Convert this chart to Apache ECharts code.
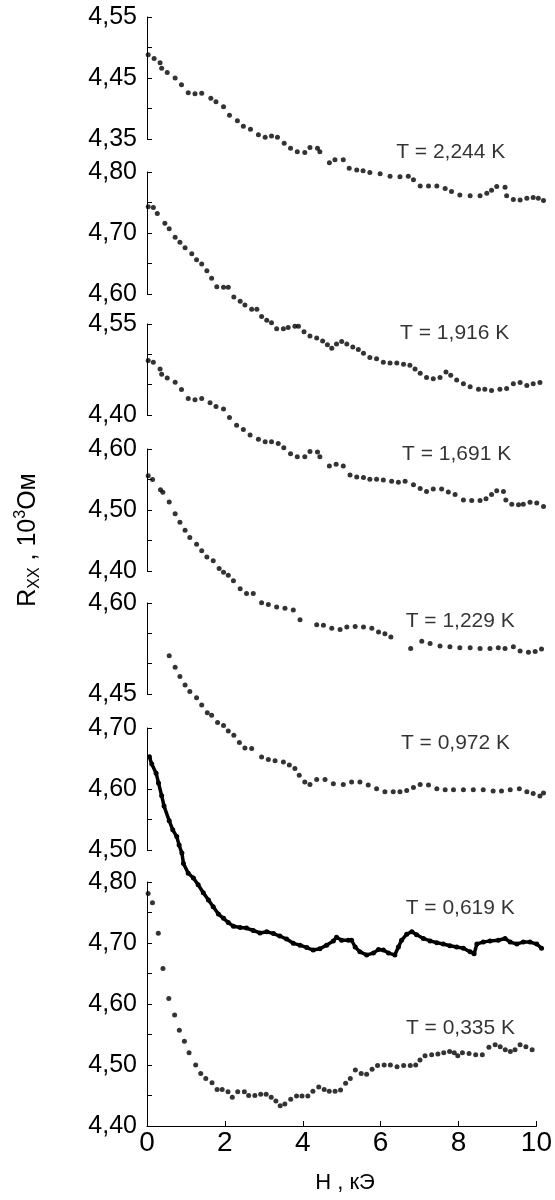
<!DOCTYPE html>
<html><head><meta charset="utf-8">
<script src="https://cdn.jsdelivr.net/npm/echarts@6/dist/echarts.min.js"></script>
<style>html,body{margin:0;padding:0;background:#fff}#c{width:555px;height:1200px}</style>
</head><body><div id="c"></div>
<script>
// Temperatures of the seven curves (top to bottom)
const temps = ['2,244', '1,916', '1,691', '1,229', '0,972', '0,619', '0,335'];

// R_xx (10^3 Ohm) vs H (kOe)
const r2244 = [[0.03,4.488],[0.18,4.482],[0.33,4.475],[0.37,4.466],[0.51,4.459],[0.71,4.450],[0.87,4.439],[1.04,4.426],[1.21,4.424],[1.38,4.425],[1.61,4.417],[1.74,4.411],[1.93,4.403],[2.08,4.389],[2.28,4.380],[2.43,4.371],[2.61,4.366],[2.81,4.357],[2.98,4.353],[3.14,4.355],[3.29,4.353],[3.46,4.343],[3.62,4.335],[3.79,4.329],[3.98,4.328],[4.11,4.336],[4.30,4.335],[4.36,4.329],[4.60,4.311],[4.74,4.316],[4.95,4.316],[5.10,4.302],[5.29,4.299],[5.45,4.298],[5.62,4.295],[5.88,4.293],[6.13,4.289],[6.38,4.288],[6.59,4.289],[6.72,4.283],[6.89,4.273],[7.10,4.273],[7.31,4.273],[7.52,4.269],[7.68,4.264],[7.89,4.258],[8.15,4.257],[8.40,4.257],[8.57,4.261],[8.69,4.266],[8.82,4.272],[9.03,4.271],[9.07,4.257],[9.24,4.251],[9.41,4.250],[9.58,4.253],[9.74,4.254],[9.87,4.253],[10.0,4.249]];
const r1916 = [[0.03,4.743],[0.16,4.742],[0.26,4.732],[0.45,4.716],[0.56,4.707],[0.71,4.693],[0.83,4.685],[0.96,4.676],[1.13,4.666],[1.25,4.656],[1.38,4.649],[1.51,4.638],[1.63,4.626],[1.76,4.612],[1.93,4.611],[2.05,4.611],[2.19,4.595],[2.35,4.588],[2.47,4.582],[2.64,4.575],[2.77,4.575],[2.89,4.563],[3.02,4.557],[3.14,4.553],[3.27,4.543],[3.44,4.543],[3.56,4.545],[3.73,4.547],[3.82,4.547],[3.96,4.538],[4.11,4.531],[4.28,4.528],[4.43,4.523],[4.55,4.517],[4.66,4.511],[4.78,4.518],[4.91,4.522],[5.04,4.518],[5.19,4.513],[5.33,4.509],[5.46,4.503],[5.62,4.496],[5.79,4.494],[5.96,4.488],[6.13,4.487],[6.30,4.487],[6.47,4.485],[6.63,4.483],[6.76,4.477],[6.89,4.470],[7.05,4.463],[7.22,4.461],[7.39,4.463],[7.54,4.472],[7.66,4.467],[7.81,4.459],[7.98,4.453],[8.15,4.448],[8.36,4.444],[8.52,4.444],[8.69,4.442],[8.90,4.444],[9.07,4.445],[9.24,4.453],[9.41,4.455],[9.58,4.450],[9.74,4.453],[9.91,4.455]];
const r1691 = [[0.03,4.490],[0.16,4.487],[0.33,4.476],[0.37,4.467],[0.51,4.461],[0.71,4.454],[0.87,4.442],[1.04,4.427],[1.21,4.425],[1.38,4.427],[1.59,4.420],[1.74,4.414],[1.93,4.410],[2.08,4.396],[2.26,4.383],[2.43,4.376],[2.60,4.367],[2.81,4.360],[2.98,4.356],[3.14,4.356],[3.31,4.353],[3.45,4.346],[3.62,4.336],[3.79,4.331],[3.98,4.331],[4.11,4.340],[4.30,4.339],[4.36,4.331],[4.60,4.316],[4.77,4.319],[4.95,4.316],[5.12,4.301],[5.29,4.298],[5.46,4.297],[5.62,4.294],[5.79,4.294],[5.96,4.293],[6.17,4.291],[6.34,4.289],[6.51,4.291],[6.72,4.285],[6.89,4.279],[7.05,4.274],[7.22,4.278],[7.43,4.278],[7.60,4.273],[7.77,4.269],[7.98,4.260],[8.19,4.259],[8.40,4.259],[8.55,4.262],[8.69,4.269],[8.82,4.275],[8.99,4.274],[9.05,4.260],[9.20,4.253],[9.37,4.252],[9.49,4.253],[9.66,4.256],[9.83,4.255],[10.0,4.249]];
const r1229 = [[0.03,4.556],[0.14,4.550],[0.34,4.533],[0.40,4.529],[0.56,4.513],[0.71,4.494],[0.83,4.480],[0.96,4.467],[1.08,4.455],[1.25,4.444],[1.38,4.433],[1.51,4.423],[1.67,4.417],[1.82,4.404],[1.93,4.398],[2.05,4.393],[2.18,4.384],[2.35,4.371],[2.51,4.363],[2.68,4.363],[2.89,4.348],[3.06,4.345],[3.27,4.341],[3.48,4.339],[3.69,4.336],[3.86,4.320],[4.28,4.312],[4.45,4.311],[4.66,4.306],[4.87,4.304],[5.04,4.308],[5.25,4.309],[5.46,4.308],[5.67,4.306],[5.84,4.300],[6.00,4.297],[6.15,4.292],[6.65,4.273],[6.93,4.285],[7.14,4.281],[7.39,4.277],[7.64,4.276],[7.89,4.274],[8.15,4.274],[8.40,4.273],[8.65,4.273],[8.86,4.274],[9.03,4.273],[9.24,4.276],[9.41,4.269],[9.62,4.267],[9.79,4.268],[9.95,4.272]];
const r0972 = [[0.56,4.513],[0.71,4.494],[0.83,4.479],[0.96,4.465],[1.08,4.454],[1.25,4.444],[1.38,4.432],[1.52,4.419],[1.63,4.415],[1.78,4.403],[1.93,4.398],[2.05,4.389],[2.19,4.382],[2.33,4.370],[2.47,4.361],[2.64,4.360],[2.89,4.346],[3.06,4.342],[3.23,4.340],[3.44,4.338],[3.59,4.333],[3.73,4.327],[3.84,4.316],[3.98,4.305],[4.11,4.301],[4.28,4.309],[4.49,4.309],[4.70,4.302],[4.95,4.301],[5.16,4.305],[5.37,4.305],[5.58,4.300],[5.79,4.294],[6.00,4.289],[6.21,4.289],[6.38,4.289],[6.55,4.291],[6.72,4.296],[6.89,4.301],[7.10,4.300],[7.31,4.294],[7.52,4.292],[7.73,4.292],[7.98,4.292],[8.23,4.292],[8.48,4.292],[8.73,4.290],[8.94,4.290],[9.16,4.292],[9.39,4.294],[9.58,4.289],[9.74,4.286],[9.91,4.282],[10.0,4.287]];
const r0619 = [[0.06,4.653],[0.12,4.641],[0.23,4.626],[0.29,4.610],[0.37,4.589],[0.43,4.572],[0.56,4.548],[0.65,4.533],[0.75,4.522],[0.81,4.508],[0.88,4.495],[0.92,4.478],[1.04,4.462],[1.17,4.454],[1.29,4.443],[1.42,4.430],[1.55,4.418],[1.67,4.407],[1.80,4.395],[1.93,4.388],[2.05,4.381],[2.18,4.375],[2.35,4.373],[2.51,4.372],[2.68,4.368],[2.85,4.364],[3.02,4.366],[3.19,4.363],[3.35,4.359],[3.52,4.354],[3.69,4.347],[3.86,4.344],[4.03,4.340],[4.19,4.336],[4.36,4.338],[4.53,4.344],[4.70,4.351],[4.78,4.357],[4.91,4.352],[5.08,4.352],[5.16,4.352],[5.25,4.341],[5.37,4.333],[5.54,4.328],[5.71,4.331],[5.84,4.337],[5.96,4.336],[6.09,4.331],[6.25,4.328],[6.34,4.341],[6.42,4.352],[6.55,4.362],[6.68,4.366],[6.80,4.361],[6.97,4.355],[7.14,4.351],[7.31,4.348],[7.47,4.346],[7.64,4.343],[7.81,4.341],[7.98,4.339],[8.15,4.333],[8.25,4.330],[8.32,4.346],[8.48,4.349],[8.65,4.351],[8.86,4.352],[9.03,4.355],[9.16,4.349],[9.33,4.346],[9.49,4.349],[9.66,4.349],[9.83,4.346],[9.95,4.339]];
const r0335 = [[0.03,4.781],[0.14,4.766],[0.29,4.716],[0.41,4.658],[0.56,4.609],[0.71,4.582],[0.83,4.557],[0.96,4.539],[1.08,4.520],[1.25,4.500],[1.38,4.486],[1.51,4.478],[1.67,4.471],[1.80,4.460],[1.93,4.460],[2.08,4.456],[2.19,4.447],[2.33,4.456],[2.50,4.456],[2.61,4.450],[2.77,4.450],[2.92,4.452],[3.06,4.452],[3.19,4.447],[3.31,4.441],[3.42,4.433],[3.54,4.436],[3.69,4.444],[3.84,4.449],[3.98,4.449],[4.13,4.449],[4.26,4.457],[4.41,4.464],[4.55,4.460],[4.68,4.457],[4.83,4.457],[4.97,4.459],[5.10,4.470],[5.22,4.478],[5.35,4.492],[5.50,4.486],[5.64,4.485],[5.78,4.493],[5.92,4.499],[6.09,4.500],[6.25,4.500],[6.42,4.497],[6.59,4.499],[6.76,4.499],[6.90,4.500],[7.01,4.508],[7.14,4.515],[7.31,4.517],[7.47,4.518],[7.62,4.520],[7.77,4.522],[7.89,4.520],[7.98,4.515],[8.10,4.520],[8.27,4.519],[8.44,4.517],[8.61,4.517],[8.78,4.529],[8.94,4.533],[9.07,4.530],[9.20,4.525],[9.33,4.522],[9.45,4.525],[9.58,4.533],[9.73,4.530],[9.89,4.525]];

const curves = [r2244, r1916, r1691, r1229, r0972, r0619, r0335];

// Axis ranges and labelled ticks of each panel
const yMin = [4.35, 4.60, 4.40, 4.40, 4.45, 4.50, 4.40];
const yMax = [4.55, 4.80, 4.55, 4.60, 4.60, 4.70, 4.80];
const yTickLabels = [[4.35,4.45,4.55],[4.60,4.70,4.80],[4.40,4.55],[4.40,4.50,4.60],[4.45,4.60],[4.50,4.60,4.70],[4.40,4.50,4.60,4.70,4.80]];
const xTickLabels = [0, 2, 4, 6, 8, 10];
// Anchor (H, R) of each temperature annotation
const labelAnchor = [[7.66,4.328],[7.76,4.535],[7.81,4.336],[7.90,4.317],[7.78,4.369],[7.90,4.405],[8.05,4.561]];

// layout
const gridTop = [17, 172, 324, 449, 603, 728, 882];
const FONT = "'Liberation Sans', Arial, Helvetica, sans-serif";
const PX_PER_UNIT = 609;

const grids = [], xAxes = [], yAxes = [], series = [];
for (let i = 0; i < 7; i++) {
  const h = Math.round((yMax[i] - yMin[i]) * PX_PER_UNIT);
  grids.push({ left: 147, width: 396.5, top: gridTop[i], height: h });
  const last = i === 6;
  xAxes.push({
    gridIndex: i, type: 'value', min: 0, max: 10, interval: 2, show: last,
    axisLine: { show: true, lineStyle: { color: '#000', width: 1 } },
    axisTick: { show: true, inside: true, length: 5, lineStyle: { color: '#000' } },
    axisLabel: { show: true, color: '#000', fontSize: 28, fontFamily: FONT, margin: 3,
      formatter: v => xTickLabels.includes(Math.round(v)) ? String(Math.round(v)) : '' },
    splitLine: { show: false }
  });
  const labs = yTickLabels[i];
  yAxes.push({
    gridIndex: i, type: 'value', min: yMin[i], max: yMax[i], interval: 0.05,
    axisLine: { show: true, lineStyle: { color: '#000', width: 1 } },
    axisTick: { show: true, inside: true, length: 5, lineStyle: { color: '#000' } },
    axisLabel: { show: true, color: '#000', fontSize: 25, fontFamily: FONT, margin: 10,
      showMinLabel: true, showMaxLabel: true,
      formatter: v => labs.some(t => Math.abs(t - v) < 1e-6) ? v.toFixed(2).replace('.', ',') : '' },
    splitLine: { show: false }
  });
  const dense = i === 5;
  series.push({
    type: dense ? 'line' : 'scatter', xAxisIndex: i, yAxisIndex: i, clip: false,
    data: curves[i], symbol: 'circle', symbolSize: 5, showSymbol: true,
    itemStyle: { color: '#000' }, lineStyle: { color: '#000', width: 3.5 },
    silent: true, animation: false
  });
  series.push({
    type: 'scatter', xAxisIndex: i, yAxisIndex: i, clip: false,
    data: [labelAnchor[i]], symbolSize: 0, itemStyle: { color: 'rgba(0,0,0,0)' },
    label: { show: true, position: 'inside', formatter: 'T = ' + temps[i] + ' K',
      color: '#000', fontSize: 21, fontFamily: FONT },
    silent: true, animation: false
  });
}

const chart = echarts.init(document.getElementById('c'), null, { renderer: 'canvas' });
chart.setOption({
  backgroundColor: '#fff',
  animation: false,
  grid: grids, xAxis: xAxes, yAxis: yAxes, series: series,
  graphic: [
    { type: 'text', x: 28, y: 540, rotation: Math.PI / 2,
      style: { text: '{m|R}{s|XX}{m| , 10}{p|3}{m|Ом}', fill: '#000',
        align: 'center', verticalAlign: 'middle', textAlign: 'center', textVerticalAlign: 'middle',
        font: '25px ' + FONT,
        rich: {
          m: { fontSize: 25, fontFamily: FONT, lineHeight: 30, fill: '#000' },
          s: { fontSize: 16, fontFamily: FONT, lineHeight: 16, verticalAlign: 'bottom', fill: '#000' },
          p: { fontSize: 16, fontFamily: FONT, lineHeight: 16, verticalAlign: 'top', fill: '#000' }
        } } },
    { type: 'text', x: 345, y: 1183,
      style: { text: 'H , кЭ', fill: '#000', font: '22px ' + FONT,
        align: 'center', verticalAlign: 'middle', textAlign: 'center', textVerticalAlign: 'middle' } }
  ]
});
</script>
</body></html>
